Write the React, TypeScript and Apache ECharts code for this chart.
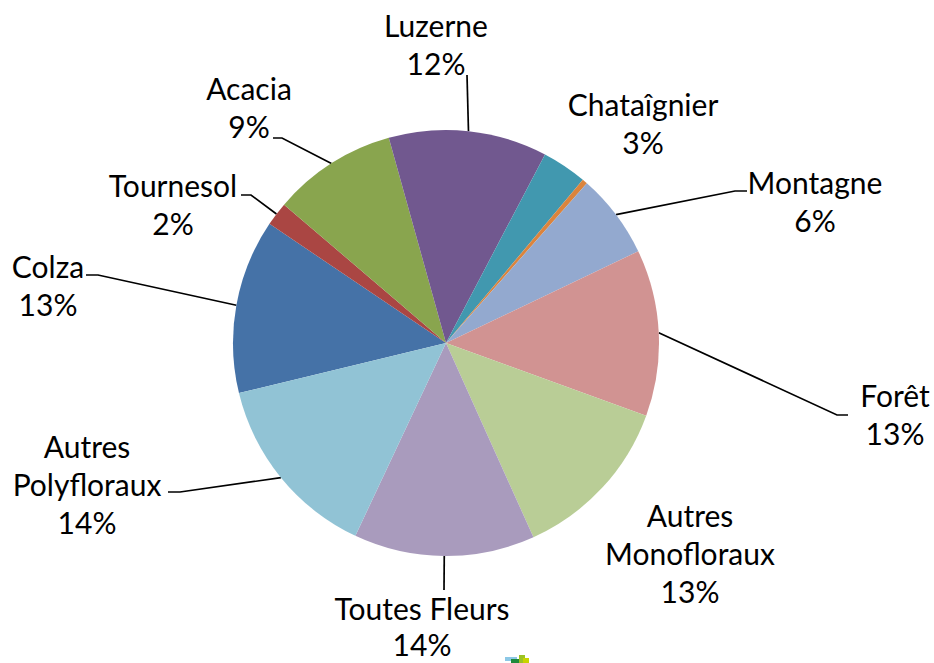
import React, { useEffect, useRef } from "react";
import * as echarts from "echarts";

// ---- data ----
const categories = [
  "Colza",
  "Tournesol",
  "Acacia",
  "Luzerne",
  "Chataîgnier",
  "Autre",
  "Montagne",
  "Forêt",
  "Autres Monofloraux",
  "Toutes Fleurs",
  "Autres Polyfloraux",
];
const shares = [13.2, 1.8, 9.4, 12.0, 3.4, 0.4, 6.4, 12.6, 12.7, 13.7, 14.2];

// ---- styles / layout ----
const colors = [
  "#4572A7",
  "#AA4643",
  "#89A54E",
  "#71588F",
  "#4198AF",
  "#DB843D",
  "#93A9CF",
  "#D19392",
  "#B9CD96",
  "#A99BBD",
  "#91C3D5",
];
const labelVisible = [true, true, true, true, true, false, true, true, true, true, true];
// label block centres [x, y]
const labelCentre: (number[] | null)[] = [
  [48, 285],
  [173, 204],
  [249, 107],
  [436, 44],
  [643, 123],
  null,
  [815, 201],
  [895, 414],
  [690, 553],
  [422, 630],
  [87, 484],
];
// leader lines: [elbow, end] or null
const leader: (number[][] | null)[] = [
  [[98, 275], [86, 275]],
  [[251, 195], [241, 195]],
  [[282, 138], [273, 138]],
  [[467, 75], [467, 75]],
  null,
  null,
  [[735, 191], [747, 191]],
  [[837, 415], [848, 415]],
  null,
  [[444, 590], [444, 590]],
  [[180, 492], [168, 492]],
];
// labels sitting on the bottom edge of the picture
const bottomLabel = [false, false, false, false, false, false, false, false, false, true, false];

const CX = 446;
const CY = 343;
const R = 213;
const H = 663;

export default function App() {
  const ref = useRef<HTMLDivElement>(null);
  useEffect(() => {
    if (!ref.current) return;
    const chart = echarts.init(ref.current, undefined, { renderer: "svg" });
    const total = shares.reduce((a, b) => a + b, 0);
    const startDeg = 90 - 256.4;
    const data = categories.map((name, i) => ({
      name,
      value: shares[i],
      itemStyle: { color: colors[i] },
      label: { show: labelVisible[i] },
      labelLine: { show: leader[i] != null },
    }));
    chart.setOption({
      animation: false,
      backgroundColor: "#ffffff",
      series: [
        {
          type: "pie",
          center: [CX, CY],
          radius: R,
          startAngle: startDeg,
          clockwise: true,
          avoidLabelOverlap: false,
          data,
          itemStyle: { borderWidth: 0 },
          label: {
            show: true,
            position: "outside",
            fontFamily: "Lato",
            fontSize: 30,
            lineHeight: 38,
            color: "#000000",
            align: "center",
            rich: {
              top: { fontFamily: "Lato", fontSize: 30, lineHeight: 36, color: "#000000" },
              bot: { fontFamily: "Lato", fontSize: 30, lineHeight: 36, color: "#000000" },
            },
            formatter: (p: any) => {
              const pct = Math.round((p.value / total) * 100) + "%";
              const nm = p.name.replace("Autres ", "Autres\n");
              if (bottomLabel[p.dataIndex]) return "{top|" + nm + "}\n{bot|" + pct + "}";
              return nm + "\n" + pct;
            },
          },
          labelLine: {
            show: true,
            lineStyle: { color: "#000000", width: 1.7 },
          },
          labelLayout: (params: any) => {
            const i = params.dataIndex;
            const c = labelCentre[i];
            if (!c) return {};
            const out: any = bottomLabel[i]
              ? { x: c[0], y: H - 1, align: "center", verticalAlign: "bottom" }
              : { x: c[0], y: c[1], align: "center", verticalAlign: "middle" };
            const l = leader[i];
            if (l) {
              // start at the slice's outer edge, mid-angle
              let s = params.labelLinePoints && params.labelLinePoints[0];
              if (!s) {
                let acc = 0;
                for (let k = 0; k < i; k++) acc += shares[k];
                const mid = ((startDeg - ((acc + shares[i] / 2) / total) * 360) * Math.PI) / 180;
                s = [CX + R * Math.cos(mid), CY - R * Math.sin(mid)];
              }
              out.labelLinePoints = [[s[0], s[1]], l[0], l[1]];
            }
            return out;
          },
        },
      ],
      graphic: [
        {
          type: "group",
          left: 505,
          top: 655,
          children: [
            { type: "rect", shape: { x: 0, y: 2, width: 12, height: 4 }, style: { fill: "#8CC8E6" } },
            { type: "rect", shape: { x: 6, y: 4, width: 10, height: 4 }, style: { fill: "#1F8A3C" } },
            { type: "rect", shape: { x: 14, y: 0, width: 6, height: 8 }, style: { fill: "#9CC224" } },
            { type: "rect", shape: { x: 18, y: 3, width: 6, height: 5 }, style: { fill: "#C8D400" } },
          ],
        },
      ],
    });
    return () => chart.dispose();
  }, []);
  return (
    <div
      ref={ref}
      style={{ position: "fixed", left: 0, top: 0, width: 934, height: 663, background: "#fff" }}
    />
  );
}
